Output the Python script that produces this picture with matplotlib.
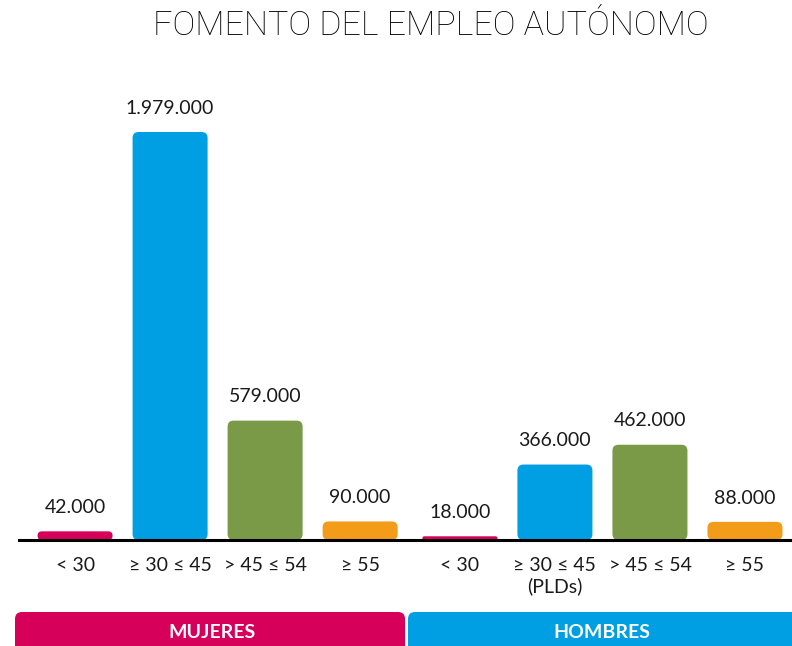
import matplotlib.pyplot as plt
from matplotlib.patches import FancyBboxPatch

plt.rcParams['font.family'] = ['Lato', 'DejaVu Sans']

# data
categorias = ['< 30', '≥ 30 ≤ 45', '> 45 ≤ 54', '≥ 55',
              '< 30', '≥ 30 ≤ 45\n(PLDs)', '> 45 ≤ 54', '≥ 55']
valores = [42000, 1979000, 579000, 90000, 18000, 366000, 462000, 88000]
grupos = ['MUJERES', 'HOMBRES']
colores = ['#D6005B', '#009FE3', '#7A9A47', '#F39C1A'] * 2
color_grupos = ['#D6005B', '#009FE3']

W, H = 792, 646
fig = plt.figure(figsize=(W / 100, H / 100), dpi=100)

# main axes in pixel terms: baseline at y=540, top at y=60
ax_top, ax_base, ax_left = 60, 540, 19
ax = fig.add_axes([ax_left / W, (H - ax_base) / H, (W - ax_left) / W, (ax_base - ax_top) / H])
ymax = 1979000 * (ax_base - ax_top) / (ax_base - 132)
ax.set_ylim(0, ymax)

pos = [0, 1, 2, 3, 4.05, 5.05, 6.05, 7.05]
ancho = 75 / 95
ax.set_xlim(-0.59, 7.545)

# rounded bars
px_x = 1 / 95                       # x data units per pixel
px_y = ymax / (ax_base - ax_top)    # y data units per pixel
aspect = px_y / px_x
for x, v, c in zip(pos, valores, colores):
    r = min(6 * px_x, v / aspect / 2)
    p = FancyBboxPatch((x - ancho / 2, 0), ancho, v,
                       boxstyle=f"round,pad=0,rounding_size={r}",
                       mutation_aspect=aspect, fc=c, ec='none')
    ax.add_patch(p)
    ax.annotate(f"{v:,}".replace(",", "."), (x, v), xytext=(0, 11),
                textcoords='offset points', ha='center', va='bottom',
                fontsize=14, color='#1a1a1a')

ax.axhline(0, color='black', lw=2.2, clip_on=False)
ax.set_xticks(pos)
ax.set_xticklabels(categorias, fontsize=14, color='#1a1a1a', linespacing=1.25)
ax.tick_params(axis='x', length=0, pad=12)
ax.set_yticks([])
for s in ax.spines.values():
    s.set_visible(False)

# overlay in pixel coordinates for title and group labels
ov = fig.add_axes([0, 0, 1, 1], zorder=-1)
ov.set_xlim(0, W)
ov.set_ylim(H, 0)
ov.axis('off')
ov.text(431, 26, 'FOMENTO DEL EMPLEO AUTÓNOMO', ha='center', va='center',
        fontsize=24.5, fontweight='light', color='black',
        family=['Roboto', 'DejaVu Sans'])
cajas = [(15, 405), (408, 800)]
for (x0, x1), g, c in zip(cajas, grupos, color_grupos):
    ov.add_patch(FancyBboxPatch((x0, 612), x1 - x0, 50,
                                boxstyle="round,pad=0,rounding_size=7",
                                fc=c, ec='none'))
    ov.text((x0 + min(x1, W)) / 2 + 2, 632, g, ha='center', va='center',
            fontsize=14, fontweight='bold', color='white')

fig.savefig('out.png', dpi=100)
